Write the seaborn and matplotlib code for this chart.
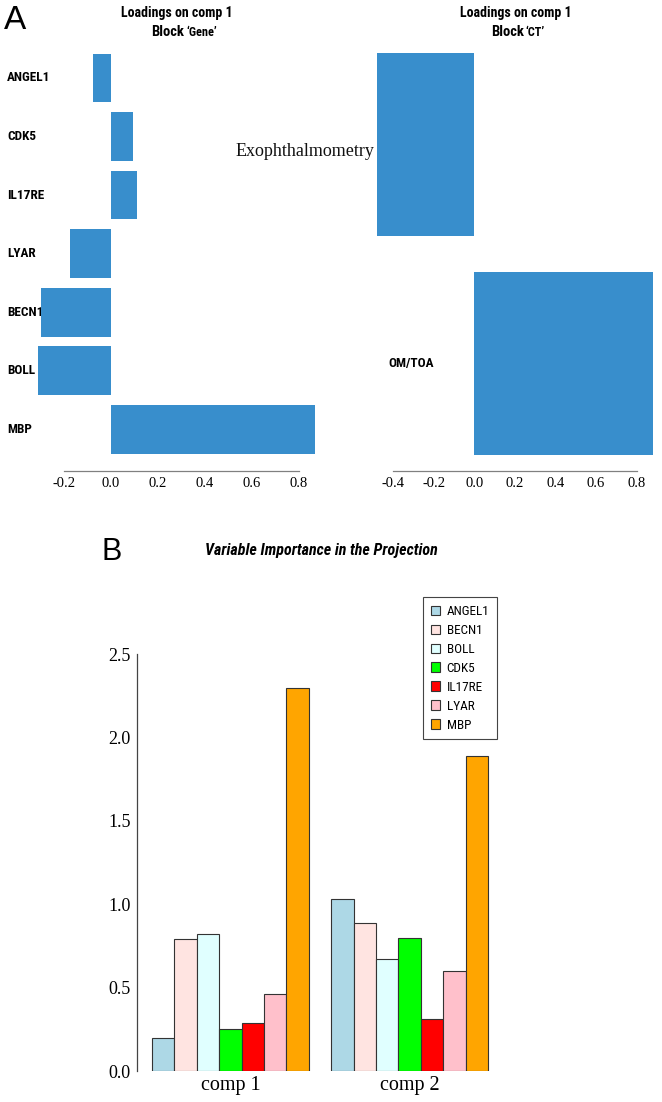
"""
Loadings (block Gene / block CT) and VIP bar charts
"""

import numpy as np
import pandas as pd
import matplotlib
matplotlib.use('Agg')
import matplotlib.pyplot as plt
import seaborn as sns
from matplotlib import font_manager
from matplotlib.ticker import FormatStrFormatter

# data
gene_names = ['ANGEL1', 'CDK5', 'IL17RE', 'LYAR', 'BECN1', 'BOLL', 'MBP']
gene_loadings = [-0.078, 0.094, 0.11, -0.174, -0.298, -0.31, 0.868]

ct_names = ['Exophthalmometry', 'OM/TOA']
ct_loadings = [-0.48, 0.88]

vip_genes = ['ANGEL1', 'BECN1', 'BOLL', 'CDK5', 'IL17RE', 'LYAR', 'MBP']
vip_colors = ['#ADD8E6', '#FFE4E1', '#E0FFFF', '#00FF00', '#FF0000', '#FFC0CB', '#FFA500']
components = ['comp 1', 'comp 2']
vip_comp1 = [0.20, 0.79, 0.82, 0.25, 0.29, 0.46, 2.30]
vip_comp2 = [1.03, 0.89, 0.67, 0.80, 0.31, 0.60, 1.89]

gene_df = pd.DataFrame({'gene': gene_names, 'loading': gene_loadings})
ct_df = pd.DataFrame({'var': ct_names, 'loading': ct_loadings})
vip_df = pd.DataFrame({
    'component': [components[0]] * len(vip_genes) + [components[1]] * len(vip_genes),
    'gene': vip_genes * 2,
    'vip': vip_comp1 + vip_comp2,
})

# Set style
sns.set_style("white")

# a narrow sans if one is installed, else plain Liberation Sans a bit smaller
fonts = font_manager.fontManager.ttflist
names = {f.name for f in fonts}
STRETCH = 'normal'
if 'Liberation Sans Narrow' in names:
    NARROW, k = 'Liberation Sans Narrow', 1.0
elif 'Roboto Condensed' in names:
    NARROW, k = 'Roboto Condensed', 1.0
elif any(f.name == 'DejaVu Sans' and f.stretch == 'condensed' for f in fonts):
    NARROW, k, STRETCH = 'DejaVu Sans', 0.92, 'condensed'
else:
    NARROW, k = 'Liberation Sans', 0.84
SERIF = 'Liberation Serif'
plt.rcParams['font.family'] = [NARROW, 'DejaVu Sans']
plt.rcParams['font.stretch'] = STRETCH
plt.rcParams['axes.unicode_minus'] = False
plt.rcParams['text.color'] = 'black'
plt.rcParams['xtick.color'] = 'black'
plt.rcParams['ytick.color'] = 'black'

W, H = 662, 1102
fig = plt.figure(figsize=(W / 100, H / 100), dpi=100)


def px_rect(left, top, right, bottom):
    return [left / W, 1 - bottom / H, (right - left) / W, (bottom - top) / H]


BLUE = '#388ECC'
AXCOL = '#808080'

# ---- A: loadings, block Gene
ax1 = fig.add_axes(px_rect(27, 37.3, 326, 470.7))
sns.barplot(data=gene_df, x='loading', y='gene', orient='h', color=BLUE,
            saturation=1, width=0.833, linewidth=0, ax=ax1)
ax1.set_xlim(-0.357, 0.915)
ax1.set_ylim(6.707, -0.695)
ax1.set_xlabel('')
ax1.set_ylabel('')
ax1.set_xticks(np.arange(-0.2, 0.81, 0.2))
ax1.xaxis.set_major_formatter(FormatStrFormatter('%.1f'))
sns.despine(ax=ax1, left=True)
ax1.spines['bottom'].set_bounds(-0.2, 0.8)
ax1.spines['bottom'].set_color(AXCOL)
ax1.spines['bottom'].set_linewidth(0.9)
ax1.tick_params(axis='x', length=3.2, width=0.9, color=AXCOL, pad=1.5, labelcolor='black')
ax1.tick_params(axis='y', length=0, pad=14.4, labelcolor='black')
for lbl in ax1.get_xticklabels():
    lbl.set_fontfamily(SERIF)
    lbl.set_fontstretch('normal')
    lbl.set_fontsize(10.5)
for lbl in ax1.get_yticklabels():
    lbl.set_ha('left')
    lbl.set_va('center')
    lbl.set_fontweight('bold')
    lbl.set_fontsize(9.5 * k)

# ---- A: loadings, block CT
ax2 = fig.add_axes(px_rect(366, 37.3, 662, 470.7))
sns.barplot(data=ct_df, x='loading', y='var', orient='h', color=BLUE,
            saturation=1, width=0.833, linewidth=0, ax=ax2)
ax2.set_xlim(-0.5335, 0.9246)
ax2.set_ylim(1.49, -0.49)
ax2.set_xlabel('')
ax2.set_ylabel('')
ax2.set_yticks([])
ax2.set_xticks(np.arange(-0.4, 0.81, 0.2))
ax2.xaxis.set_major_formatter(FormatStrFormatter('%.1f'))
sns.despine(ax=ax2, left=True)
ax2.spines['bottom'].set_bounds(-0.4, 0.8)
ax2.spines['bottom'].set_color(AXCOL)
ax2.spines['bottom'].set_linewidth(0.9)
ax2.tick_params(axis='x', length=3.2, width=0.9, color=AXCOL, pad=1.5, labelcolor='black')
for lbl in ax2.get_xticklabels():
    lbl.set_fontfamily(SERIF)
    lbl.set_fontstretch('normal')
    lbl.set_fontsize(10.5)
ytr = ax2.get_yaxis_transform()
ax2.text(0.030, 0.03, ct_names[0], transform=ytr, ha='right', va='center',
         family=SERIF, fontstretch='normal', fontsize=13, color='#111111')
ax2.text(0.074, 1.0, ct_names[1], transform=ytr, ha='left', va='center',
         fontweight='bold', fontsize=9.5 * k)

# titles of panel A
for cx, block in [(176.5, 'Gene'), (515.5, 'CT')]:
    fig.text(cx / W, 1 - 13.3 / H, 'Loadings on comp 1', ha='center', va='center',
             fontweight='bold', fontsize=10 * k)
    fig.text((cx + 8) / W, 1 - 32.3 / H, 'Block', ha='right', va='center',
             fontweight='bold', fontsize=10.5 * k)
    fig.text((cx + 10) / W, 1 - 33 / H, '\u2018' + block + '\u2019', ha='left', va='center',
             fontweight='bold', fontsize=8.8 * k)

fig.text(4 / W, 1 - 29 / H, 'A', fontsize=24, family='Liberation Sans',
         fontstretch='normal', va='baseline')
fig.text(101 / W, 1 - 560 / H, 'B', fontsize=22, family='Liberation Sans',
         fontstretch='normal', va='baseline')

# ---- B: variable importance in the projection
ax3 = fig.add_axes(px_rect(137, 590, 502.5, 1071))
sns.barplot(data=vip_df, x='component', y='vip', hue='gene', hue_order=vip_genes,
            palette=vip_colors, saturation=1, width=0.875, edgecolor='#333333',
            linewidth=0.8, ax=ax3)
ax3.set_xlim(-0.521, 1.518)
ax3.set_ylim(0, 2.885)
ax3.set_xlabel('')
ax3.set_ylabel('')
ax3.set_yticks(np.arange(0, 2.51, 0.5))
ax3.yaxis.set_major_formatter(FormatStrFormatter('%.1f'))
sns.despine(ax=ax3, bottom=True)
ax3.spines['left'].set_bounds(0, 2.5)
ax3.spines['left'].set_color('#444444')
ax3.spines['left'].set_linewidth(0.9)
ax3.tick_params(axis='y', length=3.6, width=0.9, color='#444444', pad=1, labelcolor='black')
ax3.tick_params(axis='x', length=0, pad=3.5, labelcolor='black')
for lbl in ax3.get_yticklabels():
    lbl.set_fontfamily(SERIF)
    lbl.set_fontstretch('normal')
    lbl.set_fontsize(13)
for lbl in ax3.get_xticklabels():
    lbl.set_fontfamily(SERIF)
    lbl.set_fontstretch('normal')
    lbl.set_fontsize(14.5)

leg = ax3.get_legend()
handles = leg.legend_handles
labels = [t.get_text() for t in leg.get_texts()]
leg.remove()
for h in handles:
    h.set_edgecolor('#333333')
    h.set_linewidth(0.8)
leg = ax3.legend(handles, labels, loc='upper left',
                 bbox_to_anchor=(423 / W, 1 - 597 / H), bbox_transform=fig.transFigure,
                 frameon=True, fancybox=False, framealpha=1, edgecolor='#444444',
                 borderaxespad=0, borderpad=0.6, fontsize=9.5 * k,
                 handlelength=0.7, handleheight=0.7, handletextpad=0.5, labelspacing=0.45)
leg.get_frame().set_linewidth(0.8)

fig.text(321 / W, 1 - 550 / H, 'Variable Importance in the Projection', ha='center',
         va='center', fontweight='bold', fontstyle='italic', fontsize=11.5 * k)

plt.savefig('out.png', dpi=100)
plt.close()
